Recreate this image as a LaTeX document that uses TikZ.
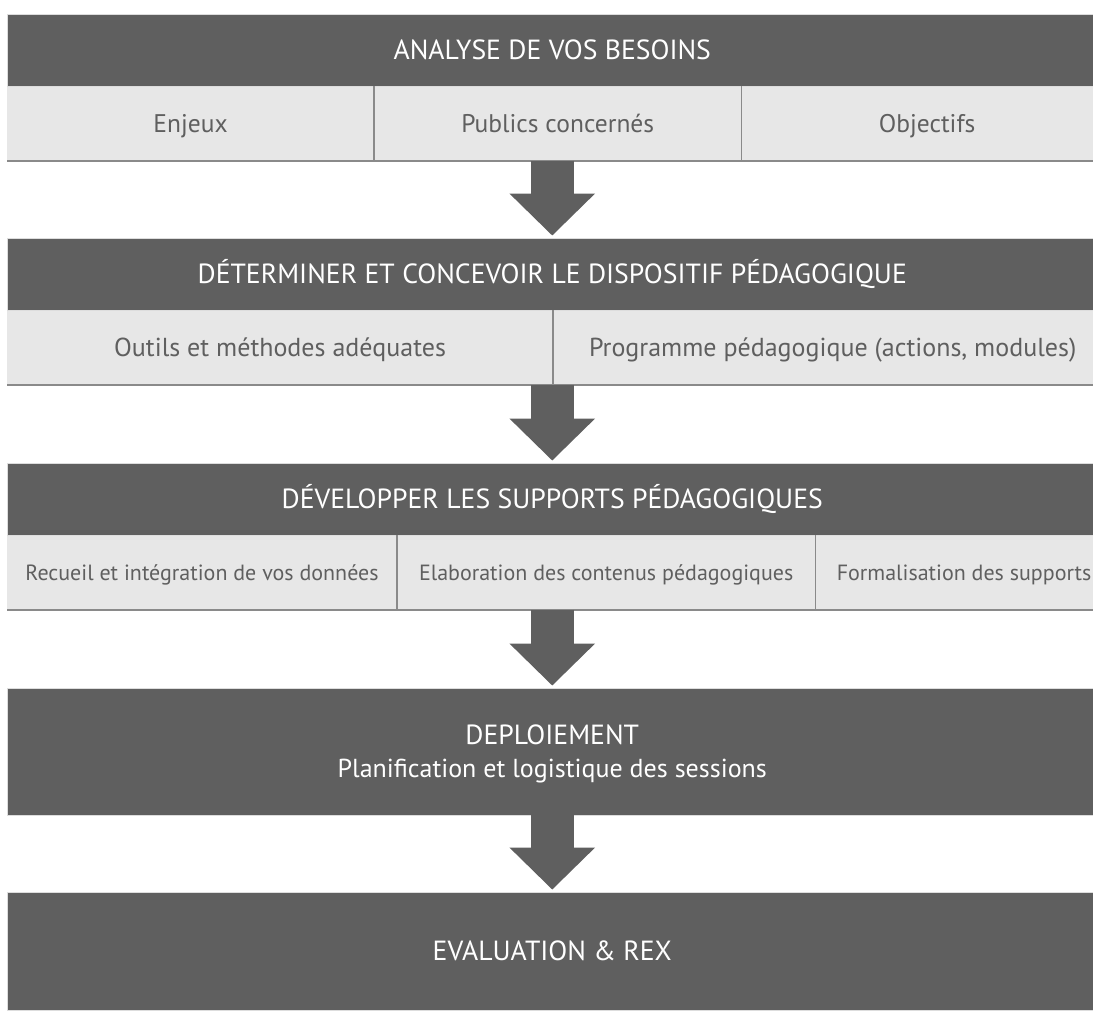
\documentclass[tikz,border=0pt]{standalone}
\usepackage{fontspec}
\setmainfont{PT Sans}
\usetikzlibrary{positioning,arrows.meta}

\definecolor{fonce}{HTML}{5F5F5F}
\definecolor{clair}{HTML}{E7E7E7}
\definecolor{filet}{HTML}{8A8A8A}
\definecolor{bord}{HTML}{DDDDDD}

\begin{document}
\begin{tikzpicture}[
        x=1pt, y=-1pt,
        titre/.style = {fill=fonce, draw=bord, line width=0.8pt, text=white, inner sep=0pt, minimum width=1089.5pt, align=center, text height=19.4pt, text depth=0pt, font=\fontsize{27.7}{30}\selectfont}, % bandeaux sombres
        case/.style = {fill=clair, text=fonce, inner sep=0pt, minimum height=74pt, text height=18pt, text depth=0pt}, % cases claires
        trait/.style = {draw=filet, line width=1.5pt},
        fleche/.style = {draw=fonce, line width=43pt, -{Triangle[width=83pt, length=42pt]}, shorten >=2pt},
    ]
    \useasboundingbox (0,0) rectangle (1093,1010);

    % étape 1
    \node[titre, minimum height=72pt] (h1) at (552.25,50) {ANALYSE DE VOS BESOINS};
    \node[case, font=\fontsize{25.5}{28}\selectfont, minimum width=366.5pt, below right=0pt of h1.south west] (c11) {Enjeux};
    \node[case, font=\fontsize{25.5}{28}\selectfont, minimum width=367pt, right=0pt of c11] (c12) {Publics concernés};
    \node[case, font=\fontsize{25.5}{28}\selectfont, minimum width=371pt, right=0pt of c12] (c13) {Objectifs};
    \draw[trait] (c11.north east) -- (c11.south east);
    \draw[trait] (c12.north east) -- (c12.south east);
    \draw[trait] (c11.south west) -- (c13.south east);

    % étape 2
    \node[titre, minimum height=72pt] (h2) at (552.25,274) {DÉTERMINER ET CONCEVOIR LE DISPOSITIF PÉDAGOGIQUE};
    \node[case, font=\fontsize{26}{28}\selectfont, minimum width=545.5pt, below right=0pt of h2.south west] (c21) {Outils et méthodes adéquates};
    \node[case, font=\fontsize{26}{28}\selectfont, minimum width=559pt, right=0pt of c21] (c22) {Programme pédagogique (actions, modules)};
    \draw[trait] (c21.north east) -- (c21.south east);
    \draw[trait] (c21.south west) -- (c22.south east);

    % étape 3
    \node[titre, minimum height=72pt] (h3) at (552.25,499) {DÉVELOPPER LES SUPPORTS PÉDAGOGIQUES};
    \node[case, text height=15.4pt, font=\fontsize{22}{24}\selectfont, minimum width=389.5pt, below right=0pt of h3.south west] (c31) {Recueil et intégration de vos données};
    \node[case, text height=15.4pt, font=\fontsize{22}{24}\selectfont, minimum width=418pt, right=0pt of c31] (c32) {Elaboration des contenus pédagogiques};
    \node[case, text height=15.4pt, font=\fontsize{22}{24}\selectfont, minimum width=297pt, right=0pt of c32] (c33) {Formalisation des supports};
    \draw[trait] (c31.north east) -- (c31.south east);
    \draw[trait] (c32.north east) -- (c32.south east);
    \draw[trait] (c31.south west) -- (c33.south east);

    % étapes 4 et 5
    \node[titre, minimum height=127pt, text height=51pt] (h4) at (552.25,751.5) {DEPLOIEMENT\\[3pt]\fontsize{26}{30}\selectfont Planification et logistique des sessions};
    \node[titre, minimum height=118pt] (h5) at (552.25,951) {EVALUATION \& REX};

    % flèches
    \draw[fleche] (c12.south -| h2.north) -- (h2.north);
    \draw[fleche] (c21.south -| h3.north) -- (h3.north);
    \draw[fleche] (c32.south -| h4.north) -- (h4.north);
    \draw[fleche] (h4.south) -- (h5.north);
\end{tikzpicture}
\end{document}
